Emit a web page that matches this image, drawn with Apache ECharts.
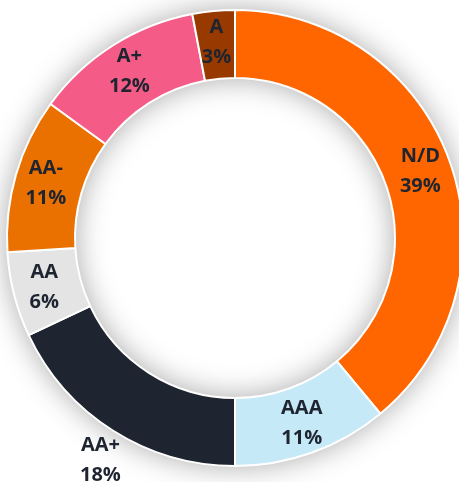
<!DOCTYPE html>
<html>
<head>
<meta charset="utf-8">
<script src="https://cdn.jsdelivr.net/npm/echarts@6/dist/echarts.min.js"></script>
<style>
  html, body { margin: 0; padding: 0; background: #fff; }
  #main { width: 459px; height: 482px; }
</style>
</head>
<body>
<div id="main"></div>
<script>
// 评级分布
var categories = ['N/D', 'AAA', 'AA+', 'AA', 'AA-', 'A+', 'A'];
var values = [39, 11, 18, 6, 11, 12, 3];
var colors = ['#ff6600', '#c6e9f7', '#1e2530', '#e4e4e4', '#ea7000', '#f45b86', '#983a00'];

var chart = echarts.init(document.getElementById('main'), null, { renderer: 'canvas' });

var pieData = categories.map(function (name, i) {
  var item = { name: name, value: values[i], itemStyle: { color: colors[i] } };
  // AA+ 的标签放到环的外面（左下）
  if (name === 'AA+') {
    item.label = {
      padding: [0, 58, 0, 0],
      formatter: function (p) { return '{gap| }\n' + p.name + '\n' + p.value + '%'; }
    };
  }
  return item;
});

var option = {
  backgroundColor: '#ffffff',
  animation: false,
  series: [
    // 底层的圆环，只用来画阴影
    {
      type: 'pie',
      center: [235, 238],
      radius: [160, 228],
      silent: true,
      z: 1,
      label: { show: false },
      labelLine: { show: false },
      data: [{ value: 1 }],
      itemStyle: {
        color: '#ffffff',
        shadowBlur: 30,
        shadowColor: 'rgba(0, 0, 0, 0.35)'
      }
    },
    {
      type: 'pie',
      z: 2,
      center: [235, 238],
      radius: [160, 228],
      startAngle: 90,
      clockwise: true,
      avoidLabelOverlap: false,
      data: pieData,
      itemStyle: {
        borderColor: '#ffffff',
        borderWidth: 2
      },
      label: {
        show: true,
        position: 'inside',
        formatter: function (p) { return p.name + '\n' + p.value + '%'; },
        fontFamily: 'Open Sans',
        fontWeight: 'bold',
        fontSize: 20,
        lineHeight: 30,
        color: '#1e2530',
        rich: {
          gap: { lineHeight: 112, fontSize: 10 }
        }
      },
      labelLine: { show: false },
      emphasis: { disabled: true }
    }
  ]
};
chart.setOption(option);
</script>
</body>
</html>
